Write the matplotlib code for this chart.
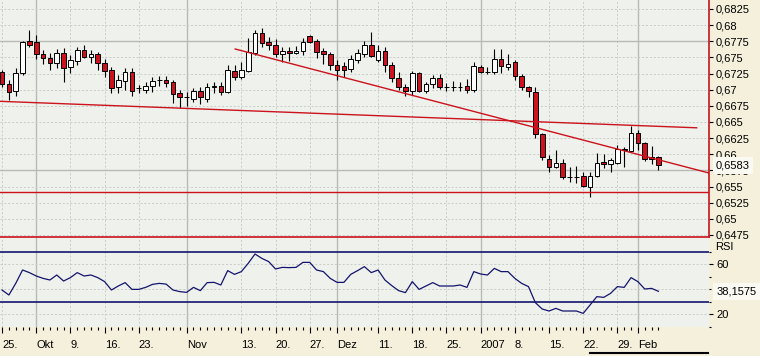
import matplotlib
matplotlib.use("Agg")
import matplotlib.pyplot as plt
import numpy as np
import pandas as pd
from matplotlib.lines import Line2D

plt.rcParams['font.family'] = ['Liberation Sans', 'DejaVu Sans']

# Tageskerzen ab 25.09.2006 (nur Werktage)
start = '2006-09-25'
open_ = [0.6727, 0.6709, 0.6698, 0.6726, 0.6775, 0.6774, 0.6755, 0.6749, 0.6741, 0.6757,
         0.6735, 0.6744, 0.6762, 0.6751, 0.6755, 0.6741, 0.6731, 0.6704, 0.6713, 0.6727,
         0.6703, 0.6700, 0.6706, 0.6715, 0.6715, 0.6712, 0.6695, 0.6688, 0.6686, 0.6698,
         0.6686, 0.6704, 0.6706, 0.6696, 0.6729, 0.6720, 0.6729, 0.6757, 0.6788, 0.6774,
         0.6769, 0.6755, 0.6760, 0.6757, 0.6760, 0.6783, 0.6775, 0.6760, 0.6755, 0.6738,
         0.6737, 0.6732, 0.6746, 0.6755, 0.6769, 0.6746, 0.6760, 0.6738, 0.6718, 0.6704,
         0.6698, 0.6726, 0.6698, 0.6709, 0.6718, 0.6704, 0.6704, 0.6704, 0.6706, 0.6700,
         0.6735, 0.6727, 0.6727, 0.6748, 0.6735, 0.6743, 0.6721, 0.6704, 0.6696, 0.6631,
         0.6593, 0.6580, 0.6587, 0.6565, 0.6565, 0.6566, 0.6549, 0.6566, 0.6588, 0.6585,
         0.6587, 0.6608, 0.6605, 0.6633, 0.6617, 0.6596, 0.6596]
high = [0.6731, 0.6715, 0.6734, 0.6775, 0.6792, 0.6785, 0.6762, 0.6757, 0.6763, 0.6765,
        0.6754, 0.6766, 0.6769, 0.6762, 0.6758, 0.6748, 0.6735, 0.6723, 0.6734, 0.6734,
        0.6707, 0.6712, 0.6720, 0.6721, 0.6721, 0.6715, 0.6700, 0.6696, 0.6703, 0.6704,
        0.6710, 0.6712, 0.6712, 0.6738, 0.6738, 0.6743, 0.6780, 0.6792, 0.6796, 0.6782,
        0.6779, 0.6766, 0.6766, 0.6768, 0.6780, 0.6785, 0.6779, 0.6765, 0.6758, 0.6746,
        0.6743, 0.6754, 0.6763, 0.6775, 0.6789, 0.6769, 0.6766, 0.6743, 0.6727, 0.6709,
        0.6729, 0.6727, 0.6712, 0.6723, 0.6724, 0.6710, 0.6713, 0.6712, 0.6717, 0.6743,
        0.6738, 0.6735, 0.6763, 0.6763, 0.6755, 0.6746, 0.6724, 0.6706, 0.6704, 0.6633,
        0.6599, 0.6607, 0.6593, 0.6580, 0.6582, 0.6573, 0.6573, 0.6602, 0.6600, 0.6594,
        0.6614, 0.6611, 0.6644, 0.6638, 0.6619, 0.6613, 0.6597]
low = [0.6704, 0.6684, 0.6690, 0.6723, 0.6766, 0.6748, 0.6740, 0.6731, 0.6734, 0.6712,
       0.6726, 0.6738, 0.6749, 0.6741, 0.6731, 0.6720, 0.6695, 0.6695, 0.6700, 0.6690,
       0.6695, 0.6695, 0.6696, 0.6706, 0.6704, 0.6679, 0.6672, 0.6675, 0.6681, 0.6678,
       0.6681, 0.6695, 0.6692, 0.6695, 0.6715, 0.6717, 0.6727, 0.6754, 0.6766, 0.6762,
       0.6751, 0.6743, 0.6744, 0.6755, 0.6754, 0.6772, 0.6749, 0.6740, 0.6731, 0.6715,
       0.6720, 0.6727, 0.6741, 0.6751, 0.6751, 0.6743, 0.6727, 0.6712, 0.6700, 0.6690,
       0.6692, 0.6696, 0.6695, 0.6703, 0.6701, 0.6698, 0.6698, 0.6698, 0.6695, 0.6696,
       0.6726, 0.6724, 0.6724, 0.6726, 0.6731, 0.6715, 0.6700, 0.6689, 0.6625, 0.6591,
       0.6573, 0.6579, 0.6562, 0.6557, 0.6556, 0.6549, 0.6534, 0.6565, 0.6579, 0.6573,
       0.6585, 0.6580, 0.6604, 0.6607, 0.6590, 0.6585, 0.6576]
close = [0.6709, 0.6696, 0.6726, 0.6774, 0.6769, 0.6755, 0.6749, 0.6741, 0.6757, 0.6734,
         0.6746, 0.6762, 0.6751, 0.6755, 0.6741, 0.6729, 0.6703, 0.6715, 0.6727, 0.6698,
         0.6702, 0.6706, 0.6713, 0.6715, 0.6710, 0.6693, 0.6689, 0.6688, 0.6698, 0.6689,
         0.6704, 0.6705, 0.6696, 0.6731, 0.6720, 0.6731, 0.6758, 0.6788, 0.6772, 0.6769,
         0.6755, 0.6760, 0.6757, 0.6760, 0.6774, 0.6774, 0.6758, 0.6755, 0.6738, 0.6731,
         0.6731, 0.6748, 0.6757, 0.6769, 0.6752, 0.6760, 0.6738, 0.6718, 0.6704, 0.6698,
         0.6726, 0.6698, 0.6709, 0.6718, 0.6704, 0.6704, 0.6704, 0.6704, 0.6700, 0.6737,
         0.6727, 0.6727, 0.6748, 0.6737, 0.6740, 0.6721, 0.6704, 0.6698, 0.6631, 0.6596,
         0.6580, 0.6587, 0.6565, 0.6565, 0.6565, 0.6551, 0.6566, 0.6587, 0.6585, 0.6591,
         0.6608, 0.6607, 0.6633, 0.6617, 0.6593, 0.6593, 0.6583]
rsi = [39.2, 35.2, 44.5, 55.2, 53.1, 50.4, 48.5, 47.2, 51.2, 46.4,
       49.1, 53.1, 50.4, 51.2, 49.1, 45.9, 39.2, 42.4, 45.1, 39.7,
       39.7, 41.3, 43.7, 44.5, 43.9, 39.2, 37.9, 37.3, 41.3, 38.7,
       45.1, 45.3, 43.2, 54.7, 51.7, 53.9, 60.5, 68.0, 64.5, 61.9,
       56.0, 57.3, 57.1, 57.3, 61.3, 61.3, 55.2, 53.9, 48.5, 45.3,
       45.3, 51.7, 54.7, 57.9, 53.1, 55.2, 47.2, 42.7, 38.7, 37.1,
       45.9, 39.7, 42.4, 45.1, 42.4, 42.4, 42.4, 43.2, 41.3, 53.9,
       52.0, 51.2, 56.5, 53.9, 53.9, 48.5, 44.5, 41.9, 29.1, 24.0,
       22.4, 24.5, 22.4, 22.4, 22.4, 20.5, 27.2, 33.9, 33.3, 36.5,
       41.9, 41.3, 49.1, 45.9, 40.0, 40.5, 38.1575]

tick_dates = ['2006-09-25', '2006-10-02', '2006-10-09', '2006-10-16', '2006-10-23',
              '2006-11-01', '2006-11-13', '2006-11-20', '2006-11-27', '2006-12-01',
              '2006-12-11', '2006-12-18', '2006-12-25', '2007-01-01', '2007-01-08',
              '2007-01-15', '2007-01-22', '2007-01-29', '2007-02-01']
tick_labels = ['25.', 'Okt', '9.', '16.', '23.', 'Nov', '13.', '20.', '27.', 'Dez',
               '11.', '18.', '25.', '2007', '8.', '15.', '22.', '29.', 'Feb']
month_labels = ['Okt', 'Nov', 'Dez', '2007', 'Feb']

# Trendlinien (Kerzenindex, Kurs) und Unterstuetzung
trend_x = [[-0.3, 101.6], [34.1, 103.4]]
trend_y = [[0.6682, 0.6641], [0.6763, 0.6571]]
support = 0.6542
rsi_levels = [30, 70]

BG = '#eff1ec'
PANEL = '#f4f0db'
RED = '#cc121c'
NAVY = '#14146e'
GRID = '#b7bab5'
DOTGRID = '#c8cbc6'
W, H = 760, 356

dates = pd.bdate_range(start, periods=len(close))
x = np.arange(len(close))
o, hi, lo, c = map(np.array, (open_, high, low, close))
up = c >= o

fig = plt.figure(figsize=(W / 100, H / 100), dpi=100, facecolor=PANEL)
ax = fig.add_axes([0, 1 - 237 / H, 709 / W, 237 / H], facecolor=BG)
ax2 = fig.add_axes([0, 1 - 327 / H, 709 / W, 89 / H], facecolor=BG, sharex=ax)

ax.set_xlim(-0.3, 103.4)
ax.set_ylim(0.64719, 0.68389)
ax2.set_ylim(9.6, 80.8)

# Gitter
tick_pos = dates.get_indexer(pd.to_datetime(tick_dates))
dots = (0, (2, 2))
for a in (ax, ax2):
    for p, lab in zip(tick_pos, tick_labels):
        if lab in month_labels:
            a.axvline(p, color=GRID, lw=1, zorder=0)
        else:
            a.axvline(p, color=DOTGRID, lw=0.7, ls=dots, zorder=0)

price_ticks = np.round(np.arange(0.6475, 0.68251, 0.0025), 4)
for v in price_ticks:
    if v in (0.6775, 0.6575):
        ax.axhline(v, color=GRID, lw=1, zorder=0)
    else:
        ax.axhline(v, color=DOTGRID, lw=0.7, ls=dots, zorder=0)
for v in (20, 40, 60):
    ax2.axhline(v, color=DOTGRID, lw=0.7, ls=dots, zorder=0)

# Kerzen
ax.vlines(x, lo, hi, color='black', lw=0.8, zorder=2)
ax.bar(x, c - o, bottom=o, width=0.68, color=np.where(up, 'white', RED),
       edgecolor='black', linewidth=0.7, zorder=3)

for tx, ty in zip(trend_x, trend_y):
    ax.plot(tx, ty, color=RED, lw=1, zorder=4)
ax.axhline(support, color=RED, lw=1, zorder=4)

# RSI
ax2.plot(x, rsi, color=NAVY, lw=0.9, zorder=3)
for v in rsi_levels:
    ax2.axhline(v, color=NAVY, lw=1.2, zorder=2)

# Achsen
for s in ('top', 'left'):
    ax.spines[s].set_visible(False)
for s in ('right', 'bottom'):
    ax.spines[s].set_color(RED)
    ax.spines[s].set_linewidth(1.2)
for s in ax2.spines.values():
    s.set_visible(False)


def komma(v):
    return f"{v:.4f}".rstrip('0').replace('.', ',')


ax.yaxis.tick_right()
ax.set_yticks(price_ticks)
ax.set_yticklabels([komma(v) for v in price_ticks])
ax.tick_params(axis='y', length=3, width=0.8, pad=2, labelsize=8)
ax.tick_params(axis='x', which='both', bottom=False, labelbottom=False)

ax2.yaxis.tick_right()
ax2.set_yticks([20, 60])
ax2.set_yticks([10, 30, 40, 50, 70], minor=True)
ax2.tick_params(axis='y', which='major', length=3, width=0.8, pad=2, labelsize=8)
ax2.tick_params(axis='y', which='minor', length=1.5, width=0.8)

ax2.set_xticks(tick_pos)
ax2.set_xticklabels(tick_labels)
ax2.set_xticks(x, minor=True)
ax2.tick_params(axis='x', which='major', length=4, width=0.8, pad=5, labelsize=8)
ax2.tick_params(axis='x', which='minor', length=2, width=0.8)
for lbl in ax2.get_xticklabels():
    lbl.set_horizontalalignment('left')

box = dict(boxstyle='square,pad=0.3', fc='#fafaf3', ec='none')
ax.text(1.01, c[-1], komma(c[-1]), transform=ax.get_yaxis_transform(),
        ha='left', va='center', fontsize=8, bbox=box, zorder=6)
ax2.text(1.01, rsi[-1], f"{rsi[-1]:.4f}".replace('.', ','), transform=ax2.get_yaxis_transform(),
         ha='left', va='center', fontsize=8, bbox=box, zorder=6)
ax2.text(1.008, 73.6, 'RSI', transform=ax2.get_yaxis_transform(),
         ha='left', va='center', fontsize=8)

fig.add_artist(Line2D([590 / W, 708 / W], [1 - 353 / H] * 2, color='black', lw=1.5))

fig.savefig('out.png', dpi=100, facecolor=PANEL)
